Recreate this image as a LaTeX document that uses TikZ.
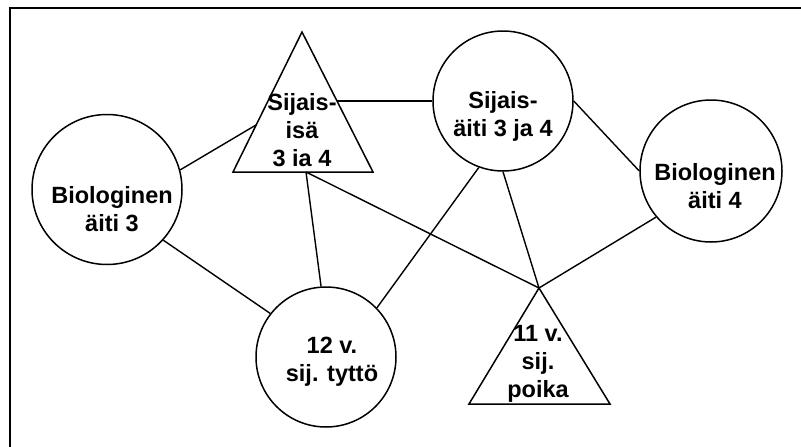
\documentclass[tikz,border=0pt]{standalone}
\usepackage{fontspec}
\setmainfont{Liberation Sans}
\begin{document}
\begin{tikzpicture}[x=1pt,y=-1pt,
  shape line/.style={line width=1.5pt, line join=miter},
  person/.style={circle, draw, line width=1.5pt, inner sep=0pt, minimum size=#1},
  lbl/.style={align=center, inner sep=0pt, font=\bfseries\fontsize{23.5}{28}\selectfont},
  conn/.style={line width=1.4pt},
  frame/.style={line width=2pt}]
\useasboundingbox (0,0) rectangle (801,447);
% frame (top and left only)
\coordinate (f1) at (10,447);
\coordinate (f2) at (10,8);
\coordinate (f3) at (801,8);
\draw[frame] (f1) -- (f2) -- (f3);

% circles
\node[person=150pt] (bio3) at (107,189.5) {};
\node[person=140pt] (aiti) at (503,101) {};
\node[person=142pt] (bio4) at (711,171) {};
\node[person=140pt] (tytto) at (326,357) {};

% triangle: Sijais-isä
\coordinate (isaA) at (302,32);
\coordinate (isaBL) at (233,172);
\coordinate (isaBR) at (373,172);
\draw[shape line] (isaA) -- (isaBL) -- (isaBR) -- cycle;
\coordinate (isaR) at (337,101);
\coordinate (isaL) at (256,125);
\coordinate (isaB) at (306,172);

% triangle: 11 v. sij. poika
\coordinate (poA) at (539,288);
\coordinate (poBL) at (469,404);
\coordinate (poBR) at (610,404);
\draw[shape line] (poA) -- (poBL) -- (poBR) -- cycle;

% labels
\node[lbl] (tisa) at (302,130) {Sijais-\\isä\\3 ia 4};
\node[lbl] (taiti) at (503,116) {Sijais-\\äiti 3 ja 4};
\node[lbl] (tbio3) at (112,209) {Biologinen\\äiti 3};
\node[lbl] (tbio4) at (715,186) {Biologinen\\äiti 4};
\node[lbl] (ttytto) at (332,362) {12 v.\\sij. tyttö};
\node[lbl] (tpoika) at (538,364) {11 v.\\sij.\\poika};

% connectors
\draw[conn] (isaR) -- (aiti.180);
\draw[conn] (bio3.15) -- (isaL);
\draw[conn] (bio3.-42) -- (tytto.142);
\draw[conn] (isaB) -- (tytto.94);
\draw[conn] (isaB) -- (poA);
\draw[conn] (aiti.250) -- (tytto.44);
\draw[conn] (aiti.270) -- (poA);
\draw[conn] (aiti.0) -- (bio4.180);
\draw[conn] (bio4.220) -- (poA);
\end{tikzpicture}
\end{document}
